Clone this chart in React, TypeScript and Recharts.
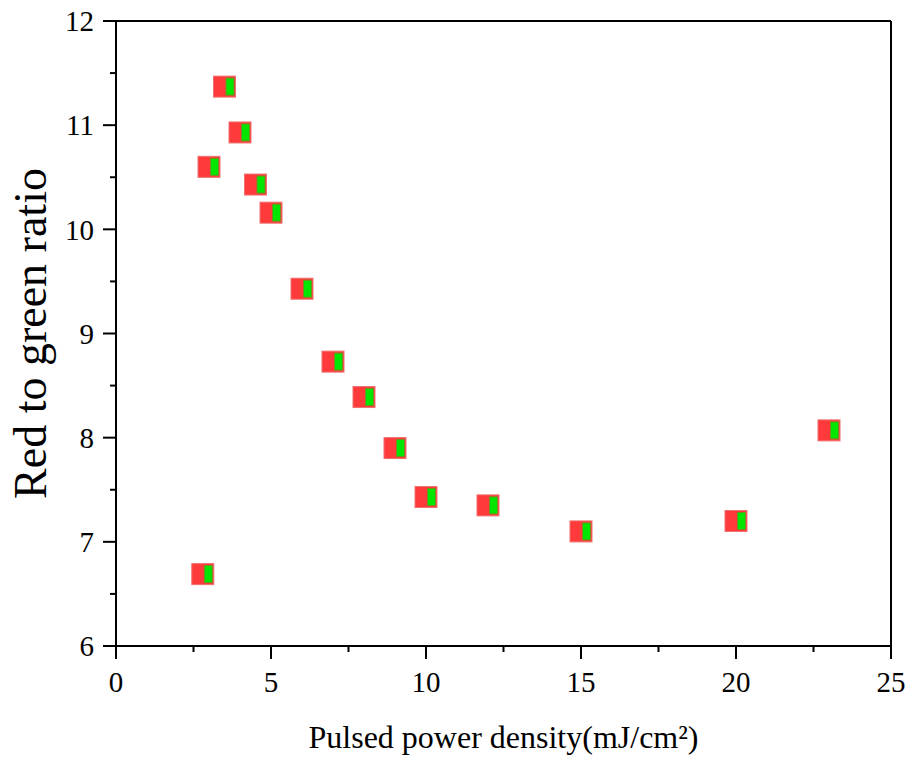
import { ScatterChart, Scatter, XAxis, YAxis, ReferenceLine } from 'recharts';

const powerDensity = [2.8, 3.0, 3.5, 4.0, 4.5, 5.0, 6.0, 7.0, 8.0, 9.0, 10.0, 12.0, 15.0, 20.0, 23.0];
const redGreenRatio = [6.69, 10.6, 11.37, 10.93, 10.43, 10.16, 9.43, 8.73, 8.39, 7.9, 7.43, 7.35, 7.1, 7.2, 8.07];

// major + minor ticks, majors get a label
const xTicks = [0, 2.5, 5, 7.5, 10, 12.5, 15, 17.5, 20, 22.5, 25];
const yTicks = [6, 6.5, 7, 7.5, 8, 8.5, 9, 9.5, 10, 10.5, 11, 11.5, 12];

const data = powerDensity.map((x, i) => ({ x, y: redGreenRatio[i] }));

const font = '"Liberation Serif", "Times New Roman", serif';
const TICK = 13;
const X_MARGIN = 12;
const Y_MARGIN = 9;

const XTick = (props: any) => {
  const { x, y, payload } = props;
  const major = payload.value % 5 === 0;
  const axisY = y - TICK - X_MARGIN;
  return (
    <g>
      <line x1={x} x2={x} y1={axisY} y2={axisY + (major ? 13 : 6)} stroke="#000" strokeWidth={2} />
      {major && (
        <text x={x} y={y} dy="0.71em" textAnchor="middle" fill="#000" fontSize={29} fontFamily={font}>
          {payload.value}
        </text>
      )}
    </g>
  );
};

const YTick = (props: any) => {
  const { x, y, payload } = props;
  const major = Number.isInteger(payload.value);
  const axisX = x + TICK + Y_MARGIN;
  return (
    <g>
      <line x1={axisX - (major ? 13 : 6)} x2={axisX} y1={y} y2={y} stroke="#000" strokeWidth={2} />
      {major && (
        <text x={x} y={y} dy="0.355em" textAnchor="end" fill="#000" fontSize={29} fontFamily={font}>
          {payload.value}
        </text>
      )}
    </g>
  );
};

// half red / half green square marker
const RedGreenSquare = (props: any) => {
  const { cx, cy } = props;
  return (
    <g>
      <rect x={cx - 11} y={cy - 10.5} width={22} height={21} fill="#ff3a3a" stroke="#f07070" strokeWidth={1} />
      <rect x={cx + 1.5} y={cy - 8.5} width={8} height={17} fill="#00e600" stroke="#7a8a20" strokeWidth={1} />
    </g>
  );
};

const App = () => {
  return (
    <div style={{ position: 'absolute', left: 0, top: 0, width: 913, height: 764, background: '#fff' }}>
      <ScatterChart width={913} height={764} margin={{ top: 21, right: 22, left: 0, bottom: 0 }}>
        <XAxis
          type="number"
          dataKey="x"
          domain={[0, 25]}
          ticks={xTicks}
          interval={0}
          tickSize={TICK}
          tickMargin={X_MARGIN}
          height={118}
          axisLine={{ stroke: '#000', strokeWidth: 2 }}
          tickLine={false}
          tick={XTick}
          label={{
            value: 'Pulsed power density(mJ/cm²)',
            position: 'insideBottom',
            offset: 16,
            fontSize: 32,
            fontFamily: font,
            fill: '#000',
          }}
        />
        <YAxis
          type="number"
          dataKey="y"
          domain={[6, 12]}
          ticks={yTicks}
          interval={0}
          tickSize={TICK}
          tickMargin={Y_MARGIN}
          width={116}
          axisLine={{ stroke: '#000', strokeWidth: 2 }}
          tickLine={false}
          tick={YTick}
          label={{
            value: 'Red to green ratio',
            angle: -90,
            position: 'insideLeft',
            offset: 30,
            fontSize: 46,
            fontFamily: font,
            fill: '#000',
            style: { textAnchor: 'middle' },
          }}
        />
        <ReferenceLine y={12} stroke="#000" strokeWidth={2} />
        <ReferenceLine x={25} stroke="#000" strokeWidth={2} />
        <Scatter data={data} shape={RedGreenSquare} isAnimationActive={false} />
      </ScatterChart>
    </div>
  );
};

export default App;
